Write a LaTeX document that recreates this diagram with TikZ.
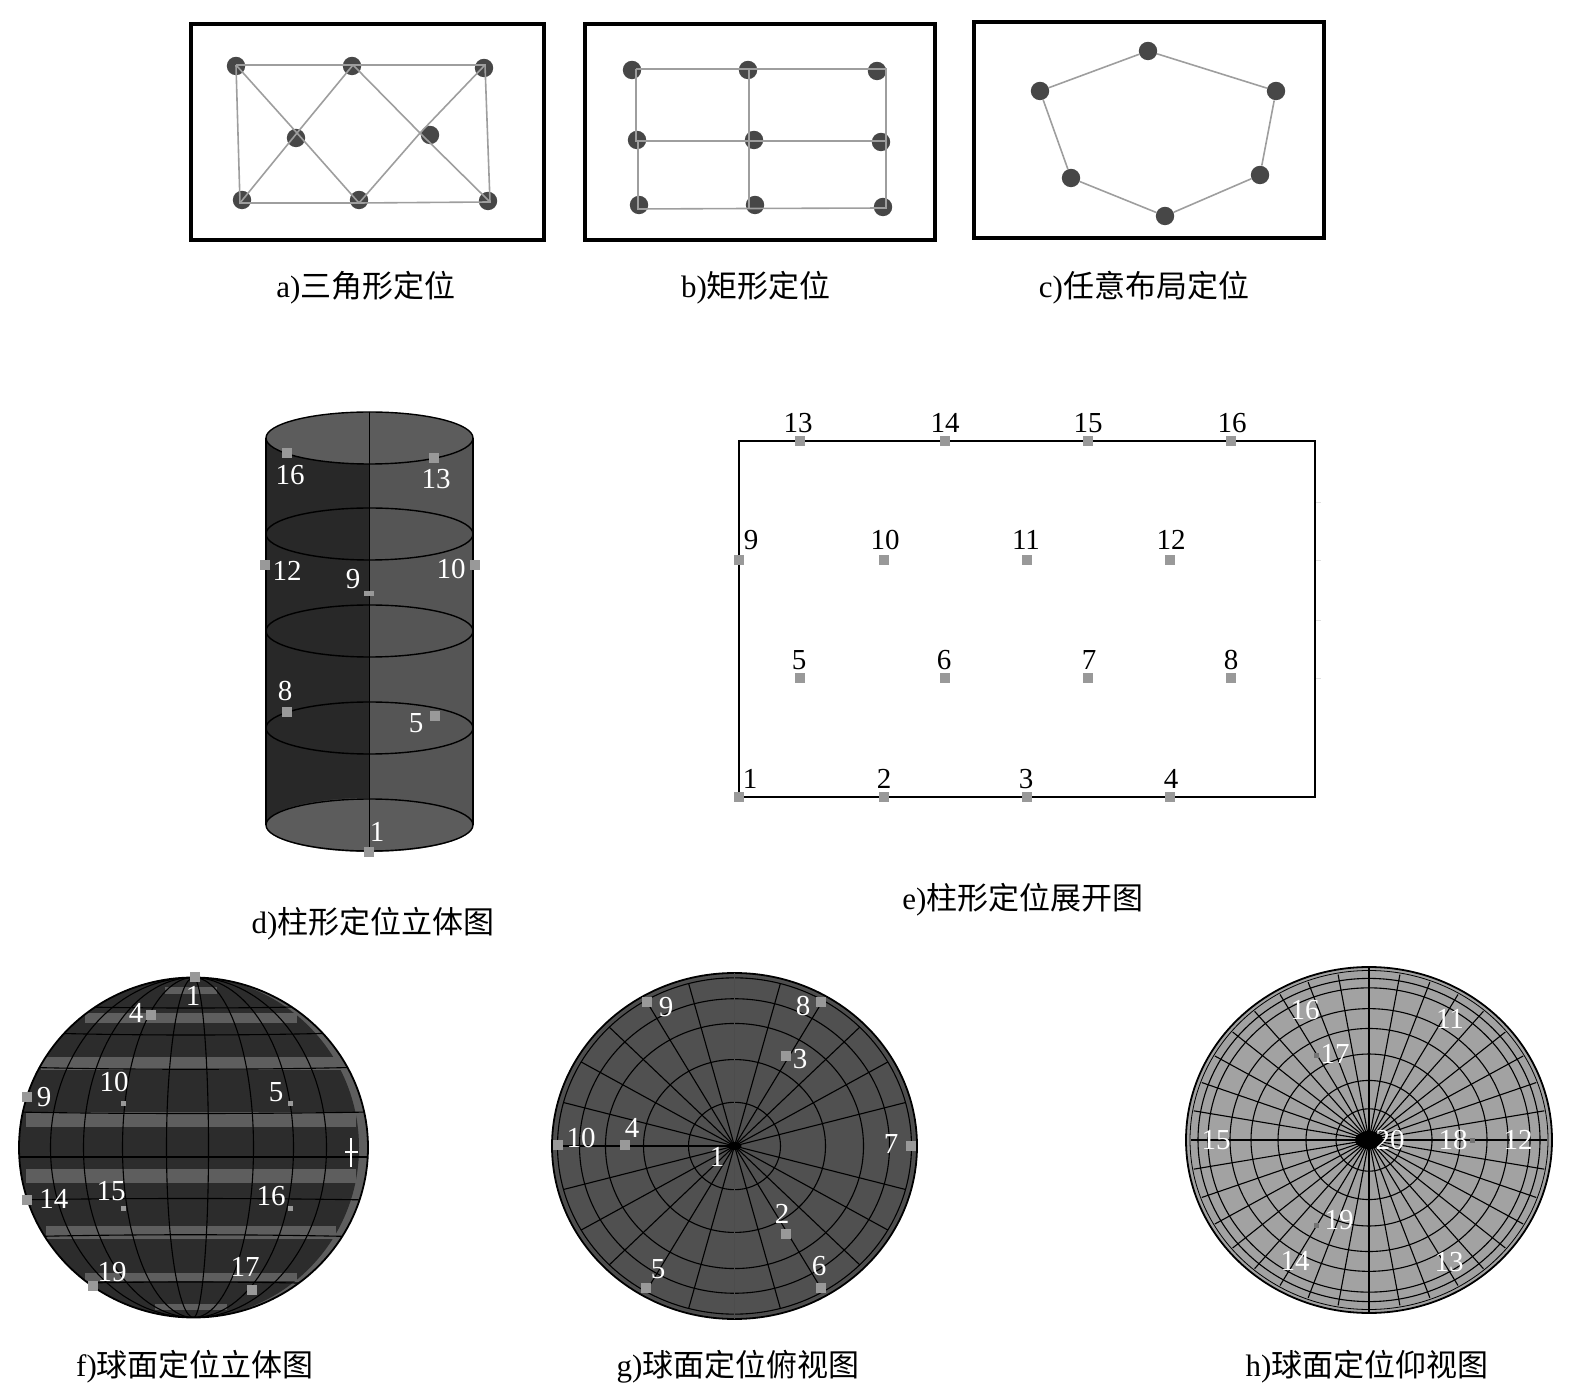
\documentclass[tikz,border=0pt]{standalone}
\usepackage{fontspec}
\setmainfont{Liberation Serif}
\newfontfamily\cjk{Noto Sans CJK SC}
\usetikzlibrary{positioning}
\tikzset{
	framebox/.style={draw=black, line width=1.8pt},
	dotnode/.style={circle, fill=black!72, inner sep=0pt, minimum size=9.2pt},
	linkline/.style={draw=black!38, line width=0.8pt},
	caption/.style={font=\fontsize{15.5}{17}\selectfont, inner sep=0pt},
	numblack/.style={font=\fontsize{14.5}{16}\selectfont, text=black, inner sep=0pt},
	numwhite/.style={font=\fontsize{14.5}{16}\selectfont, text=white, inner sep=0pt},
	marknode/.style={rectangle, fill=black!40, inner sep=0pt, minimum size=5pt},
	gridline/.style={black, line width=0.55pt}
}
\definecolor{cyldark}{HTML}{282828}
\definecolor{cyllight}{HTML}{555555}
\definecolor{cylcap}{HTML}{5C5C5C}
\definecolor{balldark}{HTML}{2C2C2C}
\definecolor{ballband}{HTML}{5E5E5E}
\definecolor{topface}{HTML}{505050}
\definecolor{lowface}{HTML}{A2A2A2}

\begin{document}
\begin{tikzpicture}[x=0.5pt, y=-0.5pt]
	\useasboundingbox (0,0) rectangle (1569,1400);

	% Triangular
	\draw[framebox] (191,24) rectangle (544,240);
	\foreach \n/\x/\y in {t1/236/66, t2/352/66, t3/484/68, m1/296/138, m2/430/135, b1/242/200, b2/359/200, b3/488/201}
		\node[dotnode] (\n) at (\x,\y) {};
	\foreach \n/\x/\y in {la1/236/65, la2/353/65, la3/485/65, la4/490/202, la5/359/203, la6/240/203, lac/297/133, lad/420/133}
		\coordinate (\n) at (\x,\y);
	\draw[linkline] (la1) -- (la2) -- (la3) -- (la4) -- (la5) -- (la6) -- (la1);
	\draw[linkline] (la1) -- (lac) -- (la5) -- (lad) -- (la3);
	\draw[linkline] (la6) -- (lac) -- (la2) -- (lad) -- (la4);
	\node[caption] (capa) at (366,288) {a)\cjk 三角形定位};

	% Rectangular
	\draw[framebox] (585,24) rectangle (935,240);
	\foreach \n/\x/\y in {r1/632/70, r2/748/70, r3/877/71, r4/637/140, r5/754/140, r6/881/142, r7/639/205, r8/755/205, r9/883/207}
		\node[dotnode] (\n) at (\x,\y) {};
	\foreach \n/\x/\y in {lb1/636/69, lb2/749/69, lb3/886/69, lb4/636/141, lc4/638/141, lb5/749/141, lb6/886/141, lb7/638/209, lb8/749/208.5, lb9/886/208}
		\coordinate (\n) at (\x,\y);
	\draw[linkline] (lb1) -- (lb2) -- (lb3) -- (lb6) -- (lb9) -- (lb8) -- (lb7) -- (lc4);
	\draw[linkline] (lb1) -- (lb4) -- (lb5) -- (lb6);
	\draw[linkline] (lb2) -- (lb5) -- (lb8);
	\node[caption] (capb) at (756,288) {b)\cjk 矩形定位};

	% Arbitrary
	\draw[framebox] (974,22) rectangle (1324,238);
	\foreach \n/\x/\y in {p1/1148/51, p2/1276/91, p3/1260/175, p4/1165/216, p5/1071/178, p6/1040/91}
		\node[dotnode] (\n) at (\x,\y) {};
	\draw[linkline] (p1) -- (p2) -- (p3) -- (p4) -- (p5) -- (p6) -- (p1);
	\node[caption] (capc) at (1144,288) {c)\cjk 任意布局定位};

	% Cylinder
	\fill[cyldark] (266,438) rectangle (369.5,825);
	\fill[cyllight] (369.5,438) rectangle (473,825);
	\fill[cylcap] (369.5,438) ellipse[x radius=103.5, y radius=26];
	\fill[cylcap] (369.5,825) ellipse[x radius=103.5, y radius=27];
	\foreach \y in {438,534,631,728,825}
		\draw[black, line width=0.7pt] (369.5,\y) ellipse[x radius=103.5, y radius=26];
	\draw[black, line width=0.7pt] (266,438) -- (266,825);
	\draw[black, line width=0.7pt] (473,438) -- (473,825);
	\draw[black, line width=0.7pt] (369.5,412) -- (369.5,852);
	\foreach \n/\x/\y in {16/287/453, 13/434/458, 12/265/565, 10/475/565, 8/287/712, 5/435/716, 1/369/852}
		\node[marknode] (cm\n) at (\x,\y) {};
	\node[marknode, minimum height=2.5pt] (cm9) at (369,594) {};
	\foreach \n/\x/\y in {16/290/475, 13/436/479, 12/287/571, 10/451/569, 9/353/579, 8/285/691, 5/416/723, 1/377/832}
		\node[numwhite] (cn\n) at (\x,\y) {\n};
	\node[caption] (capd) at (373,924) {d)\cjk 柱形定位立体图};

	% Unrolled cylinder
	\draw[black, line width=0.9pt] (739,441) rectangle (1315,797);
	\foreach \y in {502,560,620,678}
		\draw[black!12, line width=0.4pt] (1316,\y) -- (1321,\y);
	\foreach \n/\x/\y in {13/800/441, 14/945/441, 15/1088/441, 16/1231/441, 9/739/560, 10/884/560, 11/1027/560, 12/1170/560, 5/800/678, 6/945/678, 7/1088/678, 8/1231/678, 1/739/797, 2/884/797, 3/1027/797, 4/1170/797}
		\node[marknode] (em\n) at (\x,\y) {};
	\foreach \n/\x/\y in {13/798/423, 14/945/423, 15/1088/423, 16/1232/423, 9/751/540, 10/885/540, 11/1026/540, 12/1171/540, 5/799/660, 6/944/660, 7/1089/660, 8/1231/660, 1/750/779, 2/884/779, 3/1026/779, 4/1171/779}
		\node[numblack] (en\n) at (\x,\y) {\n};
	\node[caption] (cape) at (1023,900) {e)\cjk 柱形定位展开图};

	% Sphere front
	\begin{scope}
		\clip (193.5,1147.5) ellipse[x radius=174.5, y radius=170];
		\fill[ballband] (193.5,1147.5) ellipse[x radius=174.5, y radius=170];
		\fill[balldark] (189,1147.5) ellipse[x radius=170, y radius=171];
		\foreach \y/\h/\w in {990/3.5/26, 1018/5/106, 1063/6.5/150, 1119/7.5/165, 1176/7/165, 1232/6.5/145, 1277/4/106, 1307/3/36}
			\fill[ballband] (191-\w,\y-\h) rectangle (191+\w,\y+\h);
		\foreach \r in {143,110,71,27}
			\draw[gridline] (193.5,1317.5) arc[start angle=90, end angle=270, x radius=\r, y radius=170];
		\foreach \r in {15,60,100,133}
			\draw[gridline] (193.5,1317.5) arc[start angle=90, end angle=-90, x radius=\r, y radius=170];
		\foreach \y/\d in {1005/4, 1032/4, 1067/3, 1112/2, 1157/0, 1200/-2, 1237/-3, 1285/-4}
			\draw[gridline] (15,\y) .. controls (120,\y+\d) and (260,\y+\d) .. (370,\y);
	\end{scope}
	\draw[black, line width=0.9pt] (193.5,1147.5) ellipse[x radius=174.5, y radius=170];
	\draw[white, line width=0.7pt] (345,1152) -- (358,1152);
	\draw[white, line width=0.7pt] (351,1138) -- (351,1167);
	\foreach \n/\x/\y in {1/195/977, 4/151/1015, 9/27/1097, 14/27/1200, 19/93/1286, 17/252/1290}
		\node[marknode] (fm\n) at (\x,\y) {};
	\foreach \n/\x/\y in {10/123/1103, 5/290/1103, 15/123/1208, 16/290/1208}
		\node[marknode, minimum size=2.5pt] (fm\n) at (\x,\y) {};
	\foreach \n/\x/\y in {1/193/996, 4/136/1013, 9/44/1097, 10/114/1082, 5/276/1092, 14/54/1199, 15/111/1191, 16/271/1196, 19/112/1272, 17/245/1267}
		\node[numwhite] (fn\n) at (\x,\y) {\n};
	\node[caption] (capf) at (195,1367) {f)\cjk 球面定位立体图};

	% Sphere top view
	\fill[topface] (734.5,1146) ellipse[x radius=182.5, y radius=173];
	\foreach \r in {46,91,129,155,177}
		\draw[gridline] (734.5,1146) ellipse[x radius=\r, y radius=0.95*\r];
	\foreach \a in {15,30,...,345}
		\draw[gridline] (734.5,1146) -- ++(\a:177 and 168);
	\draw[black, line width=0.9pt] (734.5,1146) ellipse[x radius=182.5, y radius=173];
	\draw[black!70, line width=0.4pt] (734.5,1146) ellipse[x radius=179.5, y radius=170];
	\draw[black!70, line width=0.4pt] (734.5,973) -- (734.5,1319);
	\fill[black] (734.5,1146) ellipse[x radius=7, y radius=4];
	\foreach \n/\x/\y in {9/647/1002, 8/821/1002, 3/786/1056, 10/558/1145, 4/625/1145, 7/911/1146, 2/786/1234, 5/646/1288, 6/821/1288}
		\node[marknode] (gm\n) at (\x,\y) {};
	\foreach \n/\x/\y in {9/666/1007, 8/803/1006, 3/800/1059, 10/581/1138, 4/632/1128, 1/717/1157, 7/891/1144, 2/782/1214, 5/658/1269, 6/819/1266}
		\node[numwhite] (gn\n) at (\x,\y) {\n};
	\node[caption] (capg) at (738,1367) {g)\cjk 球面定位俯视图};

	% Sphere bottom view
	\fill[lowface] (1369,1140) ellipse[x radius=183, y radius=173];
	\foreach \r in {33,63,91,118,139,161,171}
		\draw[gridline] (1369,1140) ellipse[x radius=\r, y radius=0.945*\r];
	\foreach \a in {10,20,...,360}
		\draw[gridline] (1369,1140) -- ++(\a:178 and 168);
	\draw[black, line width=0.9pt] (1369,1140) ellipse[x radius=183, y radius=173];
	\draw[black, line width=0.4pt] (1369,1140) ellipse[x radius=179, y radius=169.5];
	\draw[black, line width=0.9pt] (1369,967) -- (1369,1313);
	\fill[black] (1369,1140) ellipse[x radius=14, y radius=9];
	\foreach \n/\x/\y in {18/1472/1140, 17/1316/1055, 19/1316/1225}
		\node[marknode, minimum size=2.5pt, fill=black!55] (hm\n) at (\x,\y) {};
	\foreach \n/\x/\y in {16/1305/1010, 11/1450/1019, 17/1335/1054, 15/1216/1140, 20/1390/1140, 18/1453/1140, 12/1518/1140, 19/1339/1220, 14/1295/1261, 13/1449/1262}
		\node[numwhite] (hn\n) at (\x,\y) {\n};
	\node[caption] (caph) at (1367,1367) {h)\cjk 球面定位仰视图};
\end{tikzpicture}
\end{document}
